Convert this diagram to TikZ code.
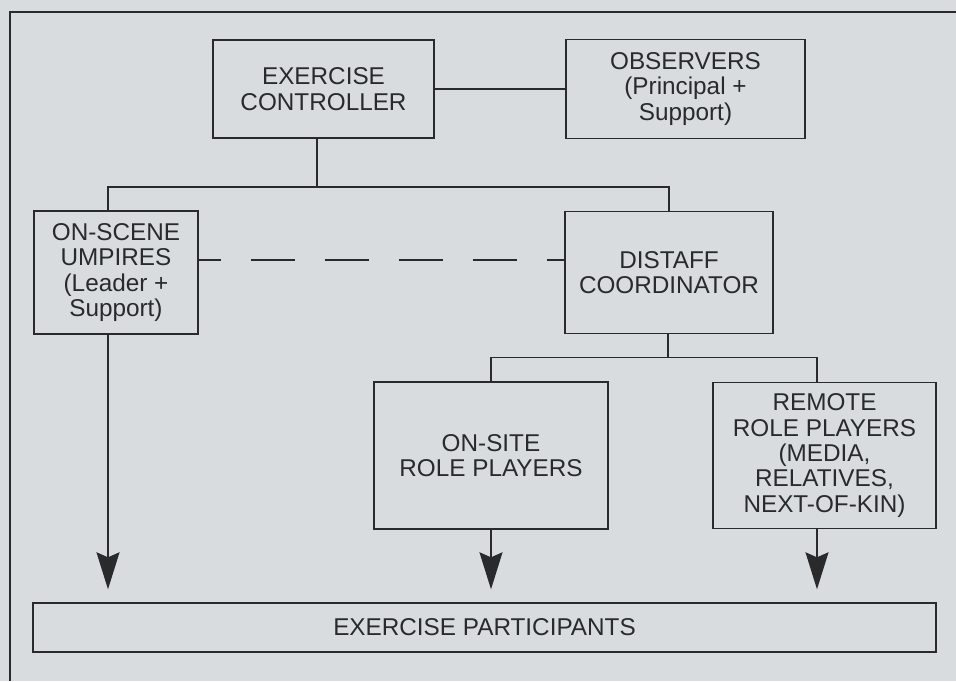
\documentclass[tikz,border=0pt]{standalone}
\usepackage{fontspec}
\setmainfont{Liberation Sans}
\usetikzlibrary{positioning,calc,arrows.meta}
\definecolor{paper}{RGB}{216,220,222}
\definecolor{ink}{RGB}{40,42,44}
\begin{document}
\begin{tikzpicture}[x=1pt, y=-1pt, on grid, auto,
    font=\fontsize{24.3}{25.3}\selectfont, text=ink,
    box/.style={draw=ink, line width=1.4pt, inner sep=0pt, align=center},
    link/.style={draw=ink, line width=1.4pt},
    arr/.style={link, -{Stealth[length=37pt, width=23pt, inset=5pt]}, shorten >=13pt}]
    \useasboundingbox[fill=paper] (0,0) rectangle (956,681);
    \draw[ink, line width=2.6pt] (10,681) -- (10,12) -- (956,12);%
    \node[box, minimum width=221pt, minimum height=98pt] (ctrl) at (323.5,89) {EXERCISE\\CONTROLLER};%
    \node[box, minimum width=239pt, minimum height=99pt] (obs) [right=362pt of ctrl] {OBSERVERS\\(Principal +\\Support)};%
    \node[box, minimum width=164pt, minimum height=123pt] (umpire) at (116,272.5) {ON-SCENE\\UMPIRES\\(Leader + \\Support)};%
    \node[box, minimum width=208pt, minimum height=122pt] (distaff) [right=553pt of umpire] {DISTAFF\\COORDINATOR};%
    \node[box, minimum width=234pt, minimum height=147pt] (onsite) at (491,455.5) {ON-SITE\\ROLE PLAYERS};%
    \node[box, minimum width=223pt, minimum height=146pt] (remote) [right=333.5pt of onsite] {REMOTE\\ROLE PLAYERS\\(MEDIA,\\RELATIVES,\\NEXT-OF-KIN)};%
    \node[box, minimum width=903pt, minimum height=49pt] (part) at (484.5,627.5) {EXERCISE PARTICIPANTS};%
    \coordinate (top fork) at (317,187);%
    \coordinate (low fork) at (668,357.5);%
    \path[link] (ctrl) -- (obs)%
                (ctrl.south -| top fork) -- (top fork)%
                ([xshift=-8pt]umpire.north) |- (top fork) -| (distaff.north)%
                (distaff.south -| low fork) -- (low fork)%
                (onsite.north) |- (low fork) -| ([xshift=-7.5pt]remote.north);
    \draw[link, dash pattern=on 44pt off 30pt, dash phase=22pt]
        ([yshift=12.5pt]umpire.east) -- ([yshift=12.5pt]umpire.east -| distaff.west);
    \draw[arr] ([xshift=-8pt]umpire.south) -- ([xshift=-8pt]umpire.south |- part.north);
    \draw[arr] (onsite.south) -- (onsite.south |- part.north);
    \draw[arr] ([xshift=-7.5pt]remote.south) -- ([xshift=-7.5pt]remote.south |- part.north);
  \end{tikzpicture}
\end{document}
